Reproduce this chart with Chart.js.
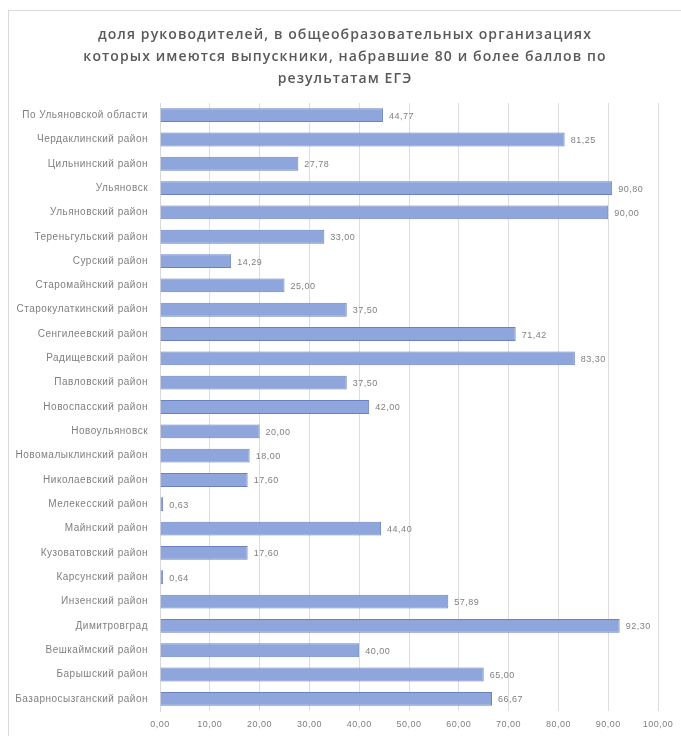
<!DOCTYPE html>
<html>
<head>
<meta charset="utf-8">
<script src="https://cdn.jsdelivr.net/npm/chart.js@4"></script>
<style>
    body { margin: 0; background: #fff; }
    #frame { position: absolute; left: 8px; top: 10px; width: 700px; height: 760px; border: 1px solid #d9d9d9; }
    #leadersChart { position: absolute; left: 0; top: 0; }
</style>
</head>
<body>
<div id="frame"></div>
<canvas id="leadersChart" width="681" height="736"></canvas>
<script>
var titleLines = [
    'доля руководителей, в общеобразовательных организациях',
    'которых имеются выпускники, набравшие 80 и более баллов по',
    'результатам ЕГЭ'
];

var districts = [
    'По Ульяновской области', 'Чердаклинский район', 'Цильнинский район', 'Ульяновск',
    'Ульяновский район', 'Тереньгульский район', 'Сурский район', 'Старомайнский район',
    'Старокулаткинский район', 'Сенгилеевский район', 'Радищевский район', 'Павловский район',
    'Новоспасский район', 'Новоульяновск', 'Новомалыклинский район', 'Николаевский район',
    'Мелекесский район', 'Майнский район', 'Кузоватовский район', 'Карсунский район',
    'Инзенский район', 'Димитровград', 'Вешкаймский район', 'Барышский район',
    'Базарносызганский район'
];

var shares = [
    44.77, 81.25, 27.78, 90.80,
    90.00, 33.00, 14.29, 25.00,
    37.50, 71.42, 83.30, 37.50,
    42.00, 20.00, 18.00, 17.60,
    0.63, 44.40, 17.60, 0.64,
    57.89, 92.30, 40.00, 65.00,
    66.67
];

var xTicks = [0, 10, 20, 30, 40, 50, 60, 70, 80, 90, 100];

function fmt(v) {
    return v.toFixed(2).replace('.', ',');
}

// Excel-like spaced text + the three-line title
var spacedTitle = {
    id: 'spacedTitle',
    beforeDraw: function(chart) {
        chart.ctx.letterSpacing = '0.5px';
    },
    afterDraw: function(chart) {
        var ctx = chart.ctx;
        ctx.save();
        ctx.letterSpacing = '1.1px';
        ctx.font = '600 14px "Open Sans"';
        ctx.fillStyle = '#595959';
        ctx.textAlign = 'center';
        ctx.textBaseline = 'middle';
        titleLines.forEach(function(line, i) {
            ctx.fillText(line, 345, 35 + i * 22);
        });
        ctx.restore();
    }
};

// value labels to the right of each bar
var barValues = {
    id: 'barValues',
    afterDatasetsDraw: function(chart) {
        var ctx = chart.ctx;
        var meta = chart.getDatasetMeta(0);
        ctx.save();
        ctx.font = '9px "Liberation Sans"';
        ctx.fillStyle = '#7f7f7f';
        ctx.textAlign = 'left';
        ctx.textBaseline = 'middle';
        meta.data.forEach(function(bar, i) {
            ctx.fillText(fmt(shares[i]), bar.x + 6, bar.y + 1);
        });
        ctx.restore();
    }
};

var ctx = document.getElementById('leadersChart').getContext('2d');
new Chart(ctx, {
    type: 'bar',
    data: {
        labels: districts,
        datasets: [{
            data: shares,
            backgroundColor: '#8ea6dc',
            borderColor: '#6a80bf',
            borderWidth: 1,
            categoryPercentage: 1,
            barPercentage: 0.57
        }]
    },
    plugins: [spacedTitle, barValues],
    options: {
        indexAxis: 'y',
        responsive: false,
        animation: false,
        layout: { padding: { top: 103, right: 23, bottom: 0, left: 0 } },
        plugins: {
            legend: { display: false },
            tooltip: { enabled: false },
            title: { display: false }
        },
        scales: {
            x: {
                min: 0,
                max: 100,
                afterBuildTicks: function(scale) {
                    scale.ticks = xTicks.map(function(v) { return { value: v }; });
                },
                afterFit: function(scale) { scale.height = 25; },
                grid: { color: '#dedede', drawTicks: false },
                border: { display: false },
                ticks: {
                    padding: 8,
                    maxRotation: 0,
                    color: '#7f7f7f',
                    font: { family: 'Liberation Sans', size: 9 },
                    callback: function(v) { return fmt(v); }
                }
            },
            y: {
                afterFit: function(scale) { scale.width = 160; },
                grid: { display: false, drawTicks: false },
                border: { display: true, color: '#d9d9d9' },
                ticks: {
                    padding: 12,
                    color: '#7f7f7f',
                    autoSkip: false,
                    font: { family: 'Liberation Sans', size: 10 }
                }
            }
        }
    }
});
</script>
</body>
</html>
